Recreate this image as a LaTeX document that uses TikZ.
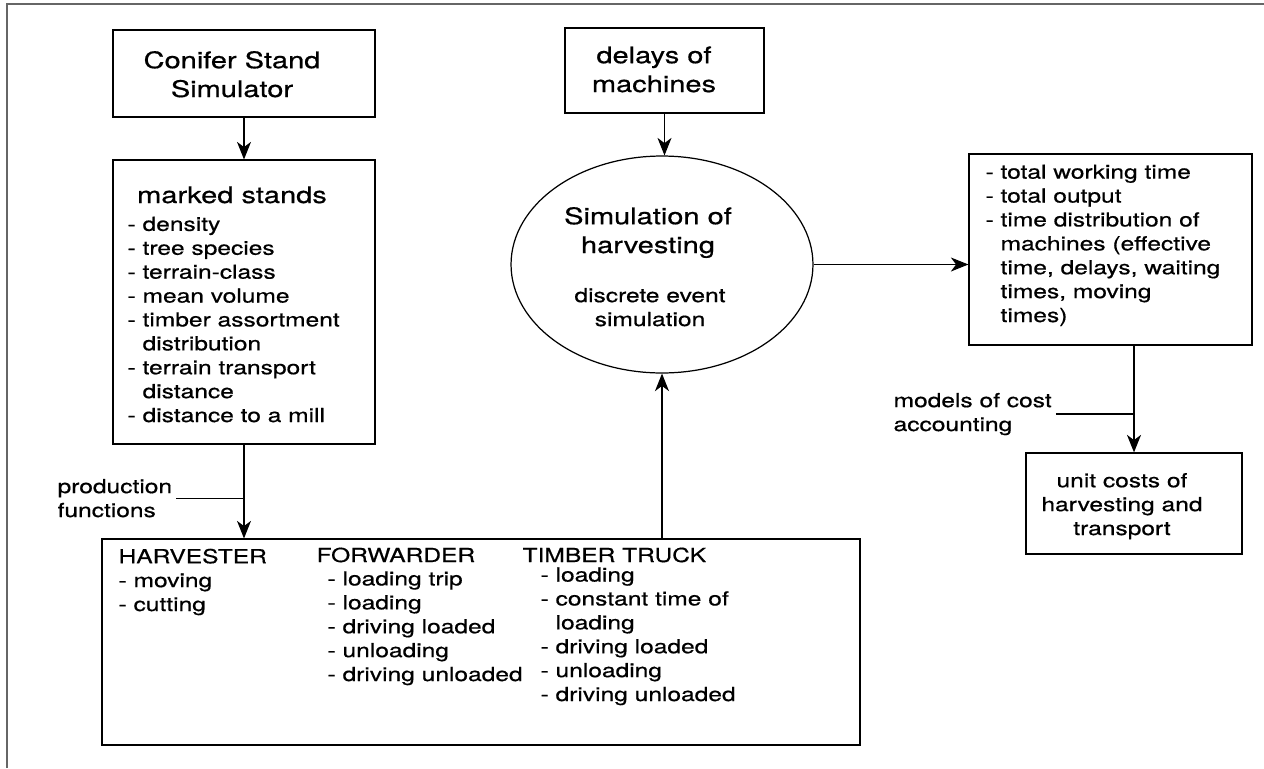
\documentclass[tikz,border=0pt]{standalone}
\usepackage{fontspec}
\setmainfont{TeX Gyre Heros}[FakeStretch=1.27,FakeBold=0.6]
\usetikzlibrary{shapes.geometric,arrows.meta}

\begin{document}
\begin{tikzpicture}[x=0.02cm,y=-0.02cm,line width=0.7pt,>={Stealth[length=10pt,width=8pt,inset=3pt]}]
        \tikzset{box/.style={rectangle,draw,inner sep=0pt}};
        \tikzset{oval/.style={ellipse,draw,inner sep=0pt}};
        \tikzset{big/.style={inner sep=0pt,align=center,font=\fontsize{13}{16.4}\selectfont}};
        \tikzset{small/.style={inner sep=0pt,align=left,font=\fontsize{11}{13.6}\selectfont}};

        \useasboundingbox (0,0) rectangle (1264,768);
        \draw [black!60] (7,768) -- (7,4) -- (1264,4);

        % inputs (text nodes sit on the baseline of their last line)
        \node [box,minimum width=5.24cm,minimum height=1.74cm] (conifer) at (244,73.5) {};
        \node [big,anchor=base] (coniferlbl) at (232,97) {Conifer Stand\\Simulator};

        \node [box,minimum width=5.24cm,minimum height=5.68cm] (marked) at (244,302) {};
        \node [big,anchor=base] (markedlbl) at (232,203) {marked stands};
        \node [small,anchor=base west] (markeditems) at (127,422) {- density\\- tree species\\- terrain-class\\- mean volume\\- timber assortment\\\phantom{- }distribution\\- terrain transport\\\phantom{- }distance\\- distance to a mill};

        \node [box,minimum width=3.98cm,minimum height=1.7cm] (delays) at (664.5,70.5) {};
        \node [big,anchor=base] (delayslbl) at (654,92) {delays of\\machines};

        % simulation
        \node [oval,minimum width=6.04cm,minimum height=4.34cm] (sim) at (662,264.5) {};
        \node [big,anchor=base] (simlbl) at (648,253) {Simulation of\\harvesting};
        \node [small,align=center,anchor=base] (simsub) at (650,326) {discrete event\\simulation};

        % machines
        \node [box,minimum width=15.16cm,minimum height=4.12cm] (machines) at (481,642) {};
        \node [small,anchor=base west] (harvester) at (118,611) {HARVESTER\\- moving\\- cutting};
        \node [small,anchor=base west] (forwarder) at (316,562) {FORWARDER};
        \node [small,anchor=base west] (forwarderitems) at (327,681) {- loading trip\\- loading\\- driving loaded\\- unloading\\- driving unloaded};
        \node [small,anchor=base west] (truck) at (522,562) {TIMBER TRUCK};
        \node [small,anchor=base west] (truckitems) at (540,701) {- loading\\- constant time of\\\phantom{- }loading\\- driving loaded\\- unloading\\- driving unloaded};

        % outputs
        \node [box,minimum width=5.66cm,minimum height=3.82cm] (results) at (1110.5,249.5) {};
        \node [small,anchor=base west] (resultitems) at (985,322) {- total working time\\- total output\\- time distribution of\\\phantom{- }machines (effective\\\phantom{- }time, delays, waiting\\\phantom{- }times, moving\\\phantom{- }times)};

        \node [box,minimum width=4.32cm,minimum height=2.02cm] (unit) at (1134,503.5) {};
        \node [small,align=center,anchor=base] (unitlbl) at (1122,535) {unit costs of\\harvesting and\\transport};

        \node [small,anchor=base west] (prod) at (57,517) {production\\functions};
        \node [small,anchor=base west] (models) at (893,431) {models of cost\\accounting};

        \draw [->] (conifer) -- (marked);
        \draw [->] (marked.south) -- (marked.south |- machines.north);
        \draw [shorten <=2pt] (prod.east) -- (prod.east -| marked.south);
        \draw [->] (delays.south) -- (delays.south |- sim.north);
        \draw [->] (machines.north -| sim.south) -- (sim.south);
        \draw [->] (sim.east) -- (sim.east -| results.west);
        \draw [->] (unit.north |- results.south) -- (unit.north);
        \draw [shorten <=2pt] (models.east) -- (models.east -| unit.north);
\end{tikzpicture}
\end{document}
